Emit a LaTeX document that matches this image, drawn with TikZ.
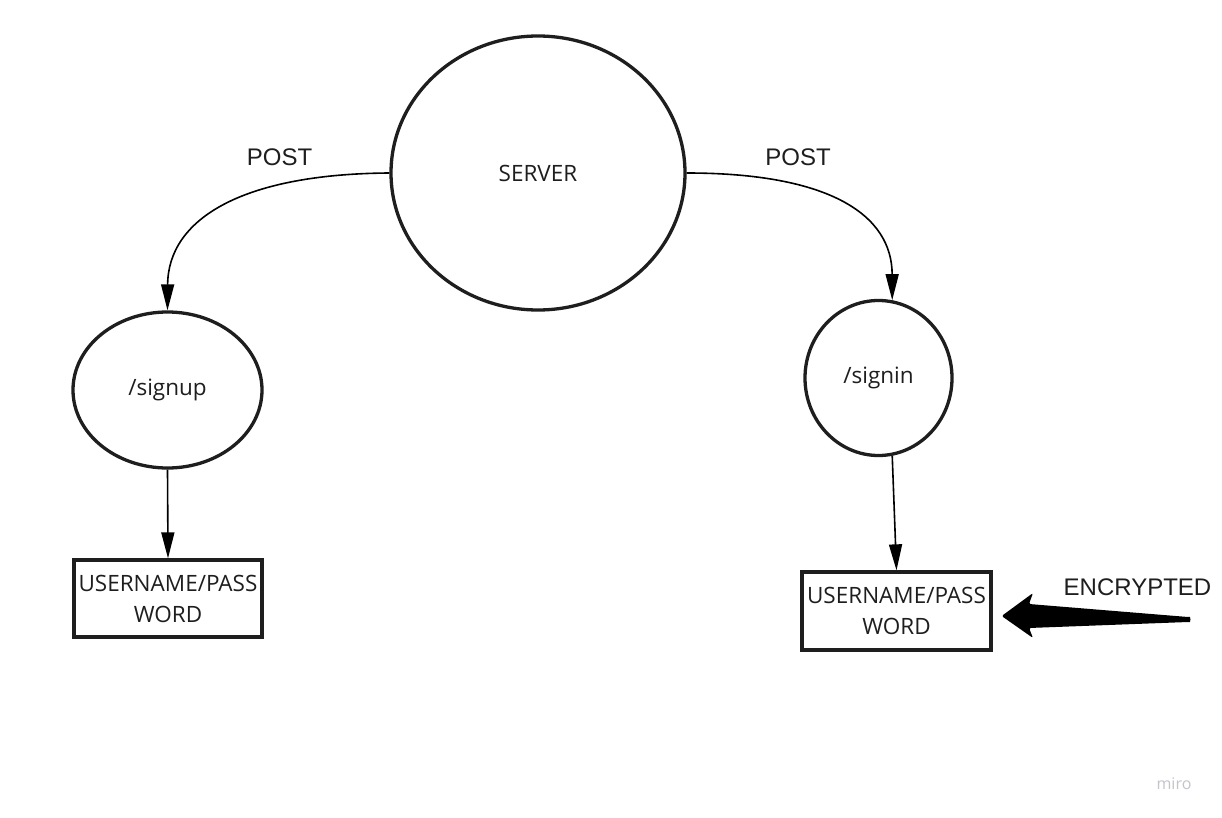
\documentclass[tikz,border=0pt]{standalone}
\usepackage{fontspec}
\setmainfont{Open Sans}
\newfontfamily\arialfont{Liberation Sans}
\usetikzlibrary{arrows.meta,shapes.geometric}
\definecolor{ink}{HTML}{1E1E1E}
\definecolor{logo}{HTML}{C4C4CC}
\begin{document}
\begin{tikzpicture}[x=1pt,y=-1pt,
  bubble/.style={draw=ink, line width=3.3pt, ellipse, inner sep=0pt, text=ink,
    font=\fontsize{22.5}{31}\selectfont},
  recbox/.style={draw=ink, line width=3.3pt, rectangle, inner sep=0pt, text=ink,
    align=center, font=\fontsize{22.5}{31}\selectfont},
  lbl/.style={inner sep=0pt, text=ink, font=\arialfont\fontsize{24}{28}\selectfont},
  conn/.style={draw=black, line width=1.6pt, -{Triangle[length=26pt,width=13pt]}},
]
\useasboundingbox (0,0) rectangle (1222,818);
\fill[white] (0,0) rectangle (1222,818);

\node[bubble, minimum width=294pt, minimum height=274pt] (server) at (538,173) {SERVER};
\node[bubble, minimum width=189pt, minimum height=156pt] (signup) at (167.5,390) {/signup};
\node[bubble, minimum width=147pt, minimum height=155pt] (signin) at (878.5,378) {/signin};
\node[recbox, minimum width=188pt, minimum height=77pt] (box1) at (168,598.5) {USERNAME/PASS\\WORD};
\node[recbox, minimum width=189pt, minimum height=78pt] (box2) at (896.5,611) {USERNAME/PASS\\WORD};

\node[lbl] (post1) at (279.5,157) {POST};
\node[lbl] (post2) at (798,157) {POST};
\node[lbl] (enc) at (1137.5,587) {ENCRYPTED};
\node[inner sep=0pt, text=logo, font=\fontsize{16}{18}\selectfont] (miro) at (1174,784) {miro};

\draw[conn] (server.west) .. controls (240,174) and (168,220) .. (signup.north);
\draw[conn] (server.east) .. controls (830,173) and (892,215) .. (signin.80);
\draw[conn] (signup.south) -- (box1.north);
\draw[conn] (signin.-80) -- (box2.north);

\coordinate (encend) at (1188,619.5);
\fill[black, rounded corners=2pt]
  ([xshift=9pt]box2.east |- 0,616) -- (1033,593) -- (1029,604)
  -- ([yshift=2.5pt]encend) arc[start angle=90, end angle=-90, radius=2.5pt]
  -- (1029,628) -- (1033,638) -- cycle;
\end{tikzpicture}
\end{document}
